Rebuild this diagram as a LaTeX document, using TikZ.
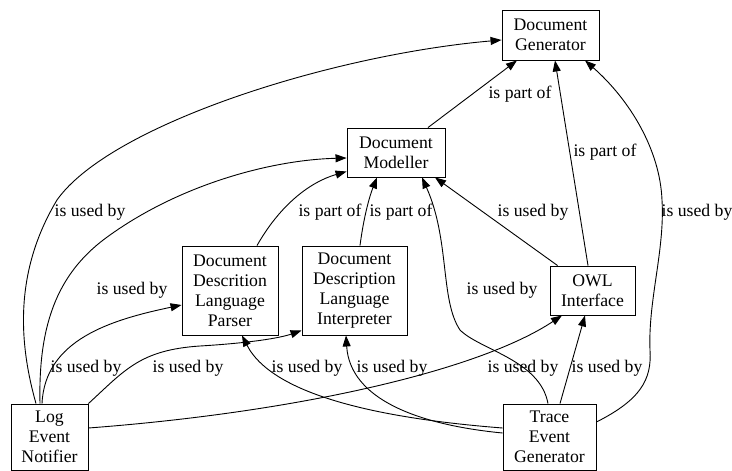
\documentclass[tikz,border=0pt]{standalone}
\usepackage{fontspec}
\setmainfont{LiberationSerif-Regular.ttf}
\usetikzlibrary{arrows.meta,calc}
\begin{document}
\begin{tikzpicture}[x=1pt,y=-1pt,
  box/.style={draw,line width=0.9pt,inner sep=0pt,align=center,font=\rmfamily\fontsize{17.7}{20}\selectfont},
  lbl/.style={inner sep=0pt,font=\rmfamily\fontsize{17.7}{20}\selectfont},
  edge/.style={line width=0.9pt,-{Triangle[length=11pt,width=8pt]}}]
\useasboundingbox (0,0) rectangle (732,471);
% nodes
\node[box,minimum width=97pt,minimum height=50pt] (gen) at (550.5,35) {Document\\Generator};
\node[box,minimum width=98pt,minimum height=49pt] (mod) at (396,152.5) {Document\\Modeller};
\node[box,minimum width=96pt,minimum height=89pt] (par) at (230,290.5) {Document\\Descrition\\Language\\Parser};
\node[box,minimum width=105pt,minimum height=89pt] (int) at (354.5,290.5) {Document\\Description\\Language\\Interpreter};
\node[box,minimum width=85pt,minimum height=49pt] (owl) at (592.5,290.5) {OWL\\Interface};
\node[box,minimum width=77pt,minimum height=66pt] (log) at (49.5,437) {Log\\Event\\Notifier};
\node[box,minimum width=93pt,minimum height=66pt] (tra) at (549.5,437) {Trace\\Event\\Generator};
% edges
\draw[edge] ($(log.north)+(-13.5,0)$) .. controls (18,340) and (15,270) .. (57,200) .. controls (110,125) and (330,55) .. ($(gen.west)+(0,5)$);
\draw[edge] ($(log.north)+(-9.5,0)$) .. controls (38,320) and (60,270) .. (110,235) .. controls (180,185) and (270,160) .. ($(mod.west)+(0,5.5)$);
\draw[edge] ($(log.north)+(-7.5,0)$) .. controls (45,340) and (110,320) .. ($(par.west)+(0,14.5)$);
\draw[edge] (log.north east) .. controls (125,370) and (140,350) .. (200,346) .. controls (250,343) and (280,338) .. ($(int.west)+(0,40)$);
\draw[edge] ($(log.east)+(0,-9)$) .. controls (300,412) and (480,370) .. ($(owl.south)+(-30.5,0)$);
\draw[edge] ($(tra.west)+(0,-9)$) .. controls (400,420) and (275,400) .. ($(par.south)+(12,0)$);
\draw[edge] ($(tra.west)+(0,-4)$) .. controls (420,425) and (350,400) .. ($(int.south)+(-8.5,0)$);
\draw[edge] ($(tra.north)+(-1.5,0)$) .. controls (540,360) and (480,350) .. (460,330) .. controls (440,300) and (450,240) .. ($(mod.south)+(26,0)$);
\draw[edge] ($(tra.north)+(10.5,0)$) -- ($(owl.south)+(-7.5,0)$);
\draw[edge] ($(tra.east)+(0,-15)$) .. controls (640,400) and (652,380) .. (650,350) .. controls (648,300) and (665,250) .. (662,200) .. controls (660,150) and (630,100) .. ($(gen.south)+(34.5,0)$);
\draw[edge] ($(owl.north west)+(8,0)$) -- ($(mod.south)+(39,0)$);
\draw[edge] ($(owl.north)+(-4.5,0)$) -- ($(gen.south)+(4.5,0)$);
\draw[edge] ($(mod.north)+(32,0)$) -- ($(gen.south)+(-33.5,0)$);
\draw[edge] ($(par.north)+(27,0)$) .. controls (280,205) and (310,182) .. ($(mod.west)+(0,19)$);
\draw[edge] ($(int.north)+(5.5,0)$) .. controls (364,215) and (370,195) .. ($(mod.south)+(-19,0)$);
% labels
\node[lbl] (l1) at (520,94) {is part of};
\node[lbl] (l2) at (605,152) {is part of};
\node[lbl] (l3) at (90,212) {is used by};
\node[lbl] (l4) at (330,212) {is part of};
\node[lbl] (l5) at (401,212) {is part of};
\node[lbl] (l6) at (533,212) {is used by};
\node[lbl] (l7) at (697,212) {is used by};
\node[lbl] (l8) at (132,290) {is used by};
\node[lbl] (l9) at (502,290) {is used by};
\node[lbl] (l10) at (86,368) {is used by};
\node[lbl] (l11) at (188,368) {is used by};
\node[lbl] (l12) at (307,368) {is used by};
\node[lbl] (l13) at (392,368) {is used by};
\node[lbl] (l14) at (523,368) {is used by};
\node[lbl] (l15) at (607,368) {is used by};
\end{tikzpicture}
\end{document}
